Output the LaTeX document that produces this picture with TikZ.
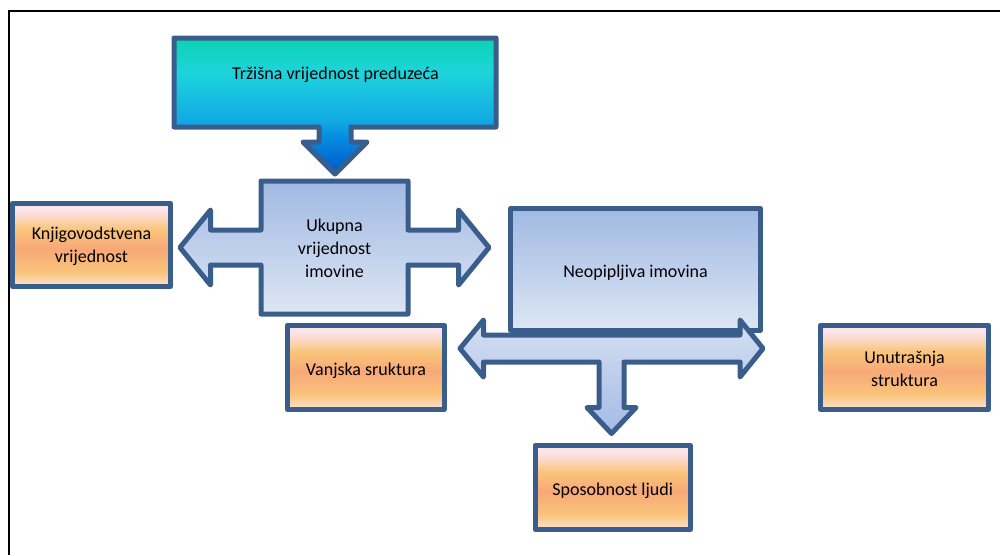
\documentclass[tikz,border=0pt]{standalone}
\usepackage{fontspec}
\setmainfont{Carlito}
\usepackage{xcolor}
\usepackage{tikz}
\usetikzlibrary{positioning}

\definecolor{edgeblue}{HTML}{3A5E8C}
\definecolor{tealtop}{HTML}{0BD3B0}
\definecolor{tealcyan}{HTML}{1ED4DC}
\definecolor{tealblue}{HTML}{12AAE4}
\definecolor{tealdeep}{HTML}{0488E0}
\definecolor{tealtip}{HTML}{0056C6}
\definecolor{skytop}{HTML}{A1B9E3}
\definecolor{skylow}{HTML}{DDE6F4}
\definecolor{barlight}{HTML}{D5DFF2}
\definecolor{bardark}{HTML}{A4BBE6}
\definecolor{peachtop}{HTML}{FBE8DA}
\definecolor{peachpink}{HTML}{FCE4EE}
\definecolor{peachorange}{HTML}{F9C47A}
\definecolor{peachsalmon}{HTML}{F8A878}
\definecolor{peachlow}{HTML}{FCE2D2}

\pgfdeclareverticalshading{tealfill}{100bp}{color(0bp)=(tealtip); color(25bp)=(tealtip);
  color(37.5bp)=(tealdeep); color(45bp)=(tealblue); color(62.5bp)=(tealcyan);
  color(75bp)=(tealtop); color(100bp)=(tealtop)}
\pgfdeclareverticalshading{skyfill}{100bp}{color(0bp)=(skylow); color(25bp)=(skylow);
  color(75bp)=(skytop); color(100bp)=(skytop)}
\pgfdeclareverticalshading{barfill}{100bp}{color(0bp)=(bardark); color(25bp)=(bardark);
  color(75bp)=(barlight); color(100bp)=(barlight)}
\pgfdeclareverticalshading{peachfill}{100bp}{color(0bp)=(peachlow); color(25bp)=(peachlow);
  color(34bp)=(peachorange); color(47.5bp)=(peachsalmon); color(59bp)=(peachorange);
  color(71bp)=(peachpink); color(75bp)=(peachtop); color(100bp)=(peachtop)}

\begin{document}
\begin{tikzpicture}[x=1pt, y=-1pt,
  outline/.style={draw=edgeblue, line width=5pt, line join=round, shade},
  boxtext/.style={font=\fontsize{18}{23}\selectfont, align=center, inner sep=0pt}]
\useasboundingbox (0,0) rectangle (1000,555);
\draw[line width=2.5pt] (9,555) -- (9,11) -- (1000,11);

% callout shapes
\draw[outline, shading=tealfill] (174,38) -- (496,38) -- (496,127) -- (351,127) -- (351,142) -- (367,142)
  -- (335,174) -- (303,142) -- (319,142) -- (319,127) -- (174,127) -- cycle;
\draw[outline, shading=skyfill] (261,181) -- (408,181) -- (408,230) -- (458.5,230) -- (458.5,210)
  -- (489,247.5) -- (458.5,285) -- (458.5,265) -- (408,265) -- (408,314) -- (261,314) -- (261,265)
  -- (210.5,265) -- (210.5,285) -- (180,247.5) -- (210.5,210) -- (210.5,230) -- (261,230) -- cycle;
\draw[outline, shading=skyfill] (510.5,208.5) rectangle (760.5,330);
\draw[outline, shading=barfill] (460,348.5) -- (483.5,320) -- (483.5,335) -- (740,335) -- (740,320)
  -- (763,348.5) -- (740,377) -- (740,362) -- (624,362) -- (624,407.5) -- (636,407.5) -- (611.5,433.5)
  -- (587,407.5) -- (599,407.5) -- (599,362) -- (483.5,362) -- (483.5,377) -- cycle;

% orange boxes
\draw[outline, shading=peachfill] (12.5,203) rectangle (170.5,286.5);
\draw[outline, shading=peachfill] (287.5,325) rectangle (444,409.5);
\draw[outline, shading=peachfill] (820.5,325) rectangle (988.5,409.5);
\draw[outline, shading=peachfill] (535,445.5) rectangle (690.5,529.5);

\node[boxtext, anchor=base] (trzisna) at (335.5,79.3) {Tržišna vrijednost preduzeća};
\node[boxtext] (ukupna) at (334.5,248) {Ukupna\\vrijednost\\imovine};
\node[boxtext] (knjig) at (91.5,246) {Knjigovodstvena\\vrijednost};
\node[boxtext, anchor=base] (neopip) at (635.5,277) {Neopipljiva imovina};
\node[boxtext, anchor=base] (vanjska) at (366,375.7) {Vanjska sruktura};
\node[boxtext] (unutr) at (904.5,369) {Unutrašnja\\struktura};
\node[boxtext, anchor=base] (sposob) at (612.75,495) {Sposobnost ljudi};
\end{tikzpicture}
\end{document}
